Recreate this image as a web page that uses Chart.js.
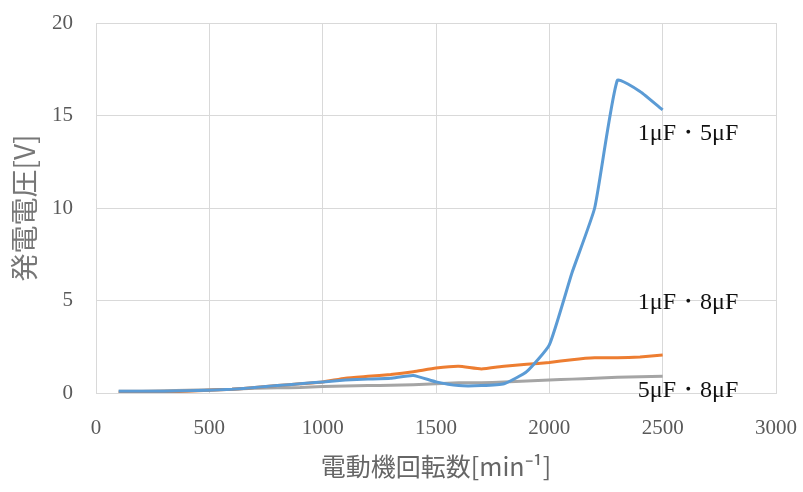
<!DOCTYPE html>
<html>
<head>
<meta charset="utf-8">
<script src="https://cdn.jsdelivr.net/npm/chart.js@4/dist/chart.umd.min.js"></script>
<style>
  html, body { margin: 0; padding: 0; background: #fff; }
  #wrap { width: 803px; height: 492px; }
</style>
</head>
<body>
<div id="wrap"><canvas id="myChart" width="803" height="492"></canvas></div>
<script>
// motor speed [min^-1]
const rpm = [100, 200, 300, 400, 500, 600, 700, 800, 900, 1000, 1100, 1200, 1300,
             1400, 1500, 1600, 1700, 1800, 1900, 2000, 2100, 2200, 2300, 2400, 2500];

// generated voltage [V]
const v1u5u = [0.1, 0.1, 0.1, 0.12, 0.15, 0.2, 0.3, 0.4, 0.5, 0.6, 0.7, 0.75, 0.8,
               0.95, 0.6, 0.4, 0.4, 0.5, 1.15, 2.6, 6.5, 10.0, 16.9, 16.3, 15.3];
const v1u8u = [0.02, 0.03, 0.05, 0.1, 0.15, 0.2, 0.3, 0.4, 0.5, 0.6, 0.8, 0.9, 1.0,
               1.15, 1.35, 1.45, 1.3, 1.45, 1.55, 1.65, 1.8, 1.9, 1.9, 1.95, 2.05];
const v5u8u = [0.1, 0.1, 0.12, 0.15, 0.18, 0.2, 0.25, 0.28, 0.3, 0.35, 0.38, 0.4, 0.42,
               0.45, 0.5, 0.55, 0.55, 0.6, 0.65, 0.7, 0.75, 0.8, 0.85, 0.88, 0.9];

const xTicks = [0, 500, 1000, 1500, 2000, 2500, 3000];
const yTicks = [0, 5, 10, 15, 20];

// series labels placed beside the lines (data coords)
const seriesLabels = ['1μF・5μF', '1μF・8μF', '5μF・8μF'];
const labelX = [2612, 2612, 2612];
const labelY = [14.0, 4.9, 0.15];

function toPoints(ys) {
    return rpm.map((x, i) => ({ x: x, y: ys[i] }));
}

const lineLabels = {
    id: 'lineLabels',
    afterDatasetsDraw(chart) {
        const ctx = chart.ctx;
        const xs = chart.scales.x, ys = chart.scales.y;
        ctx.save();
        ctx.font = '24px "Liberation Serif", serif';
        ctx.fillStyle = '#111';
        ctx.textAlign = 'center';
        ctx.textBaseline = 'middle';
        seriesLabels.forEach((t, i) => {
            ctx.fillText(t, xs.getPixelForValue(labelX[i]), ys.getPixelForValue(labelY[i]));
        });
        ctx.restore();
    }
};

const tickFont = { family: '"Liberation Serif", serif', size: 21 };
const titleFont = { family: '"Noto Sans CJK JP", "Liberation Serif", serif', size: 25 };

new Chart(document.getElementById('myChart').getContext('2d'), {
    type: 'line',
    data: {
        datasets: [
            { label: seriesLabels[0], data: toPoints(v1u5u), borderColor: '#5B9BD5', borderWidth: 3 },
            { label: seriesLabels[1], data: toPoints(v1u8u), borderColor: '#ED7D31', borderWidth: 3 },
            { label: seriesLabels[2], data: toPoints(v5u8u), borderColor: '#A5A5A5', borderWidth: 3 }
        ]
    },
    options: {
        responsive: false,
        animation: false,
        events: [],
        elements: { point: { radius: 0 }, line: { tension: 0.15, fill: false } },
        layout: { padding: { top: 23, right: 27, left: 0, bottom: 0 } },
        plugins: { legend: { display: false }, tooltip: { enabled: false } },
        scales: {
            x: {
                type: 'linear',
                min: 0, max: 3000,
                afterBuildTicks: (s) => { s.ticks = xTicks.map(v => ({ value: v })); },
                afterFit: (s) => { s.height = 99; s.paddingLeft = 0; s.paddingRight = 0; },
                grid: { color: '#d9d9d9', lineWidth: 1, drawTicks: false },
                border: { color: '#d9d9d9' },
                ticks: { color: '#595959', font: tickFont, padding: 23, maxRotation: 0, callback: (v) => String(v) },
                title: { display: true, text: '電動機回転数[min⁻¹]', color: '#666666', font: titleFont, padding: { top: 4, bottom: 11 } }
            },
            y: {
                min: 0, max: 20,
                afterBuildTicks: (s) => { s.ticks = yTicks.map(v => ({ value: v })); },
                afterFit: (s) => { s.width = 96; s.paddingTop = 0; s.paddingBottom = 0; },
                grid: { color: '#d9d9d9', lineWidth: 1, drawTicks: false },
                border: { color: '#d9d9d9' },
                ticks: { color: '#595959', font: tickFont, padding: 23, callback: (v) => String(v) },
                title: { display: true, text: '発電電圧[V]', color: '#777777', font: { family: titleFont.family, size: 28 }, padding: { top: 8, bottom: 0 } }
            }
        }
    },
    plugins: [lineLabels]
});
</script>
</body>
</html>
